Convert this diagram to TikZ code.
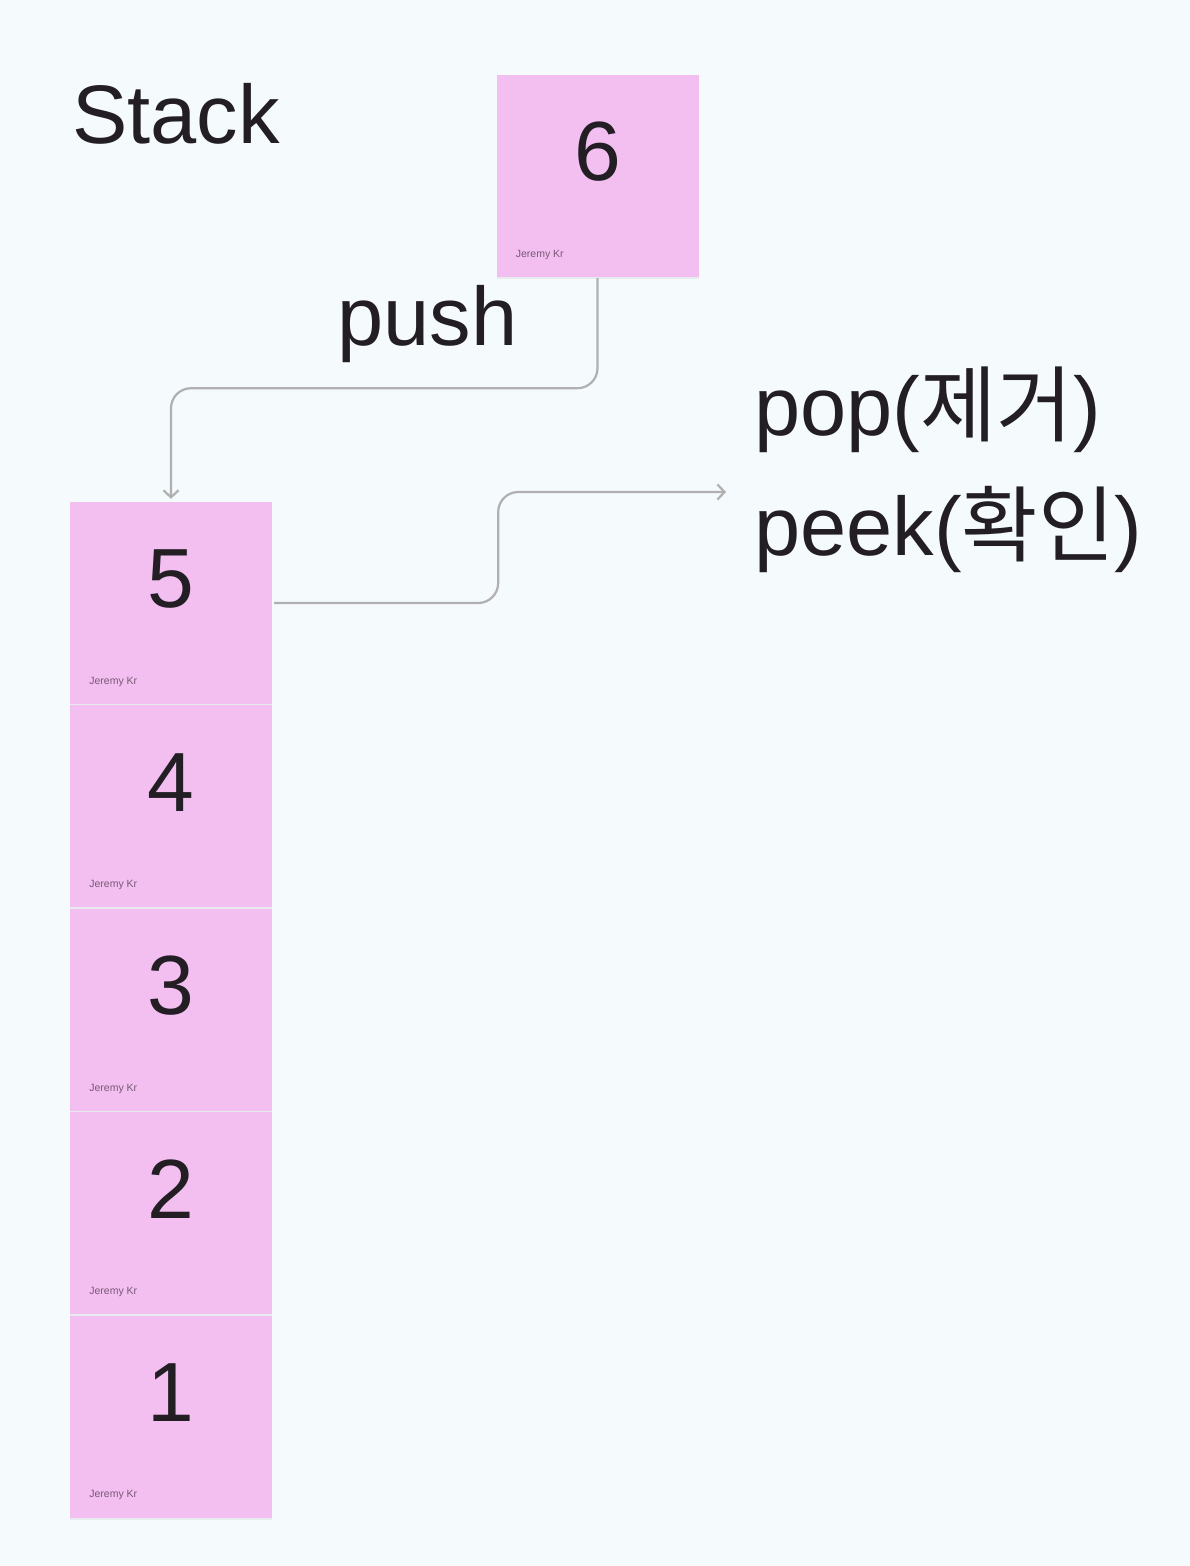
\documentclass[tikz,border=0pt]{standalone}
\usepackage{fontspec}
\setmainfont{Liberation Sans}
\newfontfamily\kr{Noto Sans CJK KR}
\usepackage{xcolor}
\usetikzlibrary{arrows.meta, positioning, shadows}
\definecolor{bgcol}{RGB}{245,250,253}
\definecolor{notecol}{RGB}{243,190,240}
\definecolor{inkcol}{RGB}{34,30,36}
\definecolor{sigcol}{RGB}{120,90,118}
\definecolor{linkcol}{RGB}{176,176,176}

\begin{document}
\begin{tikzpicture}[
    x=1pt, y=-1pt,
    node distance=1pt,
    note/.style={rectangle, fill=notecol, minimum width=202pt, minimum height=202pt, inner sep=0pt,
        drop shadow={opacity=0.12, shadow xshift=0pt, shadow yshift=-2pt}},
    digit/.style={font=\fontsize{84}{90}\selectfont, text=inkcol, yshift=24pt},
    sig/.style={font=\fontsize{10.5}{12}\selectfont, text=sigcol, anchor=base west, xshift=16pt, yshift=20pt},
    title/.style={font=\fontsize{83}{96}\selectfont, text=inkcol, anchor=base west, inner sep=0pt},
    link/.style={-{Straight Barb[length=7pt, width=15pt]}, line width=2.2pt, linkcol, rounded corners=20pt}
]
% Canvas
\path[fill=bgcol] (0,0) rectangle (1190,1566);
% Labels
\node[title] (stack) at (72,143) {Stack};
\node[title] (push) at (337,345) {push};
\node[title] (pop) at (754,435) {pop({\kr 제거})};
\node[title] (peek) at (754,555) {peek({\kr 확인})};
% Incoming note
\node[note, label={[digit]center:6}, label={[sig]south west:Jeremy Kr}] (n6) at (597.5,176) {};
% Stack of notes
\node[note, label={[digit]center:5}, label={[sig]south west:Jeremy Kr}] (n5) at (171,603) {};
\node[note, below=of n5, label={[digit]center:4}, label={[sig]south west:Jeremy Kr}] (n4) {};
\node[note, below=of n4, label={[digit]center:3}, label={[sig]south west:Jeremy Kr}] (n3) {};
\node[note, below=of n3, label={[digit]center:2}, label={[sig]south west:Jeremy Kr}] (n2) {};
\node[note, below=of n2, label={[digit]center:1}, label={[sig]south west:Jeremy Kr}] (n1) {};
% Arrows
\coordinate (popend) at (726,492);
\draw[link, shorten <=1pt, shorten >=3pt] (n6.south) -- ++(0,111) -| (n5.north);
\draw[link, shorten <=2pt] (n5.east) -- ++(226,0) |- (popend);
\end{tikzpicture}
\end{document}
